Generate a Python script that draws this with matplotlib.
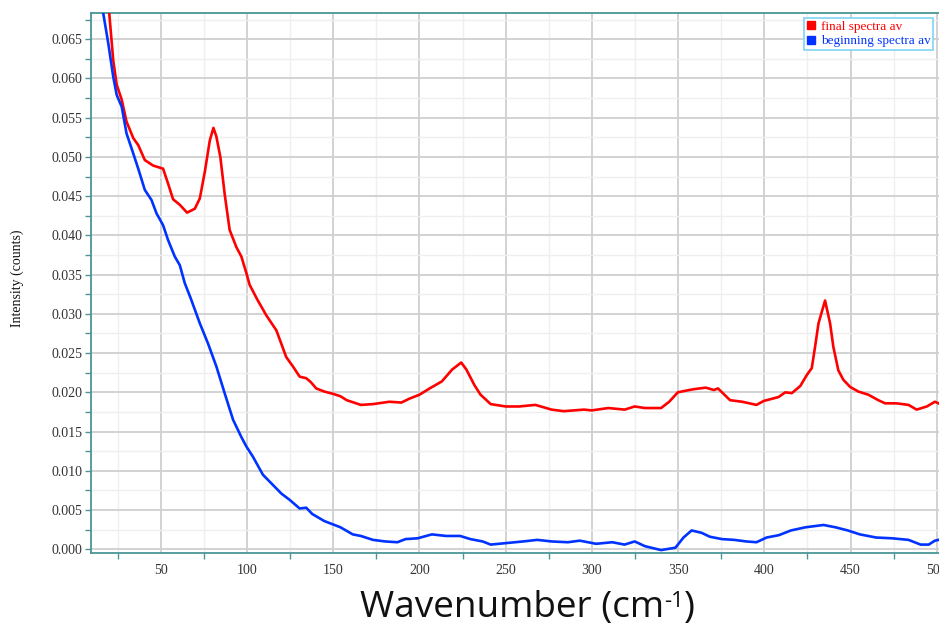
import matplotlib
matplotlib.use("Agg")
import matplotlib.pyplot as plt
from matplotlib.lines import Line2D
from matplotlib.ticker import MultipleLocator, FormatStrFormatter

# ---- data ----
final_x = [12, 16, 20, 22.4, 24.4, 27.3, 30.1, 34, 36.9, 40.7, 45.5, 51.3, 54.2, 57.1, 61, 65.2,
           69.7, 72.6, 75.5, 78.4, 80.5, 82.2, 84.5, 87, 89.9, 93.8, 96.7, 99.6, 101.5, 106,
           111.2, 117, 122.7, 126.6, 130.5, 134.3, 137, 140.1, 144.8, 150, 154.2, 157.8, 166,
           173, 182.5, 189.5, 194.2, 200, 205.9, 213, 218.9, 224.2, 227.2, 231.9, 235.4, 241.3,
           250, 257.8, 267.2, 276.6, 283.6, 295.4, 299.9, 309.5, 319, 324.8, 330.7, 340.1,
           344.8, 349.8, 354.2, 359, 366, 370.7, 373.1, 380.1, 387.2, 395.4, 399.6, 408.2,
           412.1, 415.9, 420.8, 424.6, 427.5, 429.4, 431.4, 435.2, 438.1, 440, 442.9, 445.8,
           449.7, 454.5, 460.3, 466.1, 470, 476.6, 483.6, 488.3, 494.2, 498.9, 501]
final_y = [0.0820, 0.0745, 0.0685, 0.0623, 0.0592, 0.0573, 0.0545, 0.0524, 0.0515, 0.0496,
           0.0489, 0.0485, 0.0466, 0.0446, 0.0439, 0.0429, 0.0434, 0.0447, 0.0481, 0.0521,
           0.0537, 0.0526, 0.0500, 0.0453, 0.0407, 0.0385, 0.0373, 0.0352, 0.0337, 0.0318,
           0.0298, 0.0279, 0.0245, 0.0233, 0.0220, 0.0218, 0.0213, 0.0205, 0.0201, 0.0198,
           0.0195, 0.0190, 0.0184, 0.0185, 0.0188, 0.0187, 0.0192, 0.0197, 0.0205, 0.0214,
           0.0229, 0.0238, 0.0229, 0.0209, 0.0197, 0.0185, 0.0182, 0.0182, 0.0184, 0.0178,
           0.0176, 0.0178, 0.0177, 0.0180, 0.0178, 0.0182, 0.0180, 0.0180, 0.0188, 0.0200,
           0.0202, 0.0204, 0.0206, 0.0203, 0.0205, 0.0190, 0.0188, 0.0184, 0.0189, 0.0194,
           0.0200, 0.0199, 0.0208, 0.0222, 0.0231, 0.0258, 0.0288, 0.0317, 0.0288, 0.0258,
           0.0228, 0.0216, 0.0207, 0.0201, 0.0197, 0.0190, 0.0186, 0.0186, 0.0184, 0.0178,
           0.0182, 0.0188, 0.0186]

begin_x = [10, 13, 16.6, 19.5, 22.4, 24.4, 27.3, 30.1, 33, 36.9, 40.7, 44.6, 47.5, 51.3, 54.2,
           58.1, 61, 63.9, 67.3, 72.6, 77.4, 82.2, 87, 91.9, 96.7, 99.6, 103.4, 109.2, 115,
           119.9, 124.7, 130.5, 134.3, 137.8, 144.8, 154.2, 161.3, 166, 173, 180.1, 187.2,
           191.9, 198.9, 207.2, 215.4, 223.6, 229.5, 236.6, 241.3, 250.7, 260.1, 268.3, 276.6,
           286, 293, 302.4, 311.8, 318.9, 324.8, 330.7, 340.1, 348.4, 353.1, 357.8, 363.6,
           368.4, 375.4, 382.5, 389.5, 395.4, 401.3, 408.4, 415.4, 423.7, 434.3, 441.3, 448.4,
           455.4, 464.8, 474.2, 483.6, 490.6, 495.3, 498.9, 501]
begin_y = [0.0800, 0.0745, 0.0683, 0.0645, 0.0602, 0.0579, 0.0564, 0.0530, 0.0511, 0.0485,
           0.0458, 0.0445, 0.0428, 0.0413, 0.0394, 0.0373, 0.0362, 0.0339, 0.0320, 0.0288,
           0.0262, 0.0233, 0.0199, 0.0165, 0.0143, 0.0131, 0.0118, 0.0095, 0.0082, 0.0071,
           0.0063, 0.0052, 0.0053, 0.0045, 0.0036, 0.0028, 0.0019, 0.0017, 0.0012, 0.0010,
           0.0009, 0.0013, 0.0014, 0.0019, 0.0017, 0.0017, 0.0013, 0.0010, 0.0006, 0.0008,
           0.0010, 0.0012, 0.0010, 0.0009, 0.0011, 0.0007, 0.0009, 0.0006, 0.0010, 0.0004,
           -0.0001, 0.0002, 0.0015, 0.0024, 0.0021, 0.0016, 0.0013, 0.0012, 0.0010, 0.0009,
           0.0015, 0.0018, 0.0024, 0.0028, 0.0031, 0.0028, 0.0024, 0.0019, 0.0015, 0.0014,
           0.0012, 0.0006, 0.0006, 0.0011, 0.0012]

series_labels = ["final spectra av", "beginning spectra av"]
series_colors = ["#ff0000", "#0033ff"]
x_label_parts = ["Wavenumber (cm", "-1", ")"]
y_label = "Intensity (counts)"

# ---- figure ----
W, H = 939, 629
fig = plt.figure(figsize=(W / 100, H / 100), dpi=100)
ax = fig.add_axes([91 / W, (H - 553.3) / H, (939 - 91) / W - 0.0005, (553.3 - 13.3) / H])

teal = "#4a9696"
ax.plot(final_x, final_y, color=series_colors[0], lw=1.9, zorder=3)
ax.plot(begin_x, begin_y, color=series_colors[1], lw=1.9, zorder=3)

ax.set_xlim(9.5, 501)
ax.set_ylim(-0.00051, 0.0683)

ax.xaxis.set_major_locator(MultipleLocator(50))
ax.xaxis.set_minor_locator(MultipleLocator(25))
ax.yaxis.set_major_locator(MultipleLocator(0.005))
ax.yaxis.set_minor_locator(MultipleLocator(0.0025))
ax.yaxis.set_major_formatter(FormatStrFormatter("%.3f"))

ax.grid(which="major", color="#cfcfcf", lw=1.3, zorder=0)
ax.grid(which="minor", color="#efefef", lw=1.0, zorder=0)
ax.set_axisbelow(True)

for s in ["left", "bottom", "top"]:
    ax.spines[s].set_color(teal)
    ax.spines[s].set_linewidth(1.3)
ax.spines["right"].set_visible(False)

ax.tick_params(which="both", colors=teal, direction="out", labelcolor="#333333",
               labelsize=10, width=1)
ax.tick_params(axis="x", which="major", length=0, pad=8)
ax.tick_params(axis="x", which="minor", length=4)
ax.tick_params(axis="y", which="both", length=4)
ax.tick_params(axis="y", which="major", pad=2)
for lab in ax.get_xticklabels() + ax.get_yticklabels():
    lab.set_fontfamily("Liberation Serif")

fig.text(17 / W, 1 - 278 / H, y_label, rotation=90, ha="center", va="center",
         fontsize=10, fontfamily="Liberation Serif", color="#111111")

# x label composed of pieces so the superscript keeps a plain hyphen;
# font size fitted so the whole label spans the reference width
renderer = fig.canvas.get_renderer()
target_w = 335.0
main_fs = 24.0
sup_ratio = 0.6
pieces = [fig.text(0, 0, txt, fontfamily="Open Sans", color="#111111",
                   ha="left", va="baseline") for txt in x_label_parts]

def layout(fs):
    sizes = [fs, fs * sup_ratio, fs]
    ws = []
    for t, s in zip(pieces, sizes):
        t.set_fontsize(s)
        ws.append(t.get_window_extent(renderer).width)
    return ws

for _ in range(3):
    ws = layout(main_fs)
    main_fs *= target_w / sum(ws)
ws = layout(main_fs)
raise_px = [0, 10, 0]
cx, base = 527.5, 617
xpos = cx - sum(ws) / 2
for t, w, r in zip(pieces, ws, raise_px):
    t.set_position((xpos / W, (H - base + r) / H))
    xpos += w

handles = [Line2D([], [], marker="s", linestyle="none", color=c, markersize=6) for c in series_colors]
leg = ax.legend(handles, series_labels, loc="upper right", bbox_to_anchor=(0.994, 0.991),
                borderaxespad=0, fancybox=False, framealpha=1, edgecolor="#7fd4f5",
                prop={"family": "Liberation Serif", "size": 9.5}, handlelength=0.7,
                handletextpad=0.4, labelspacing=0.15, borderpad=0.2,
                labelcolor=series_colors)
leg.get_frame().set_linewidth(1.2)

fig.savefig("out.png", dpi=100)
